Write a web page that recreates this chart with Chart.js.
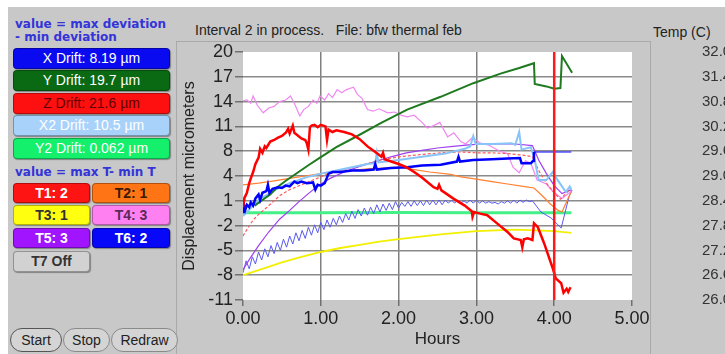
<!DOCTYPE html>
<html>
<head>
<meta charset="utf-8">
<script src="https://cdn.jsdelivr.net/npm/chart.js@4"></script>
<style>
html,body{margin:0;padding:0;}
body{width:725px;height:354px;overflow:hidden;background:#fff;position:relative;font-family:'Liberation Sans',Arial,sans-serif;color:#222;}
#frame{position:absolute;left:8px;top:7px;width:717px;height:347px;background:#c8c8c8;}
.note{position:absolute;left:15px;font:bold 12px 'DejaVu Sans',sans-serif;color:#3434d8;white-space:nowrap;}
.btn{position:absolute;box-sizing:border-box;border-radius:4px;border:1px solid rgba(0,0,0,.3);box-shadow:1px 1px 1px rgba(0,0,0,.35);text-align:center;font-size:14px;white-space:nowrap;}
.drift{left:13px;width:157px;height:21px;line-height:19px;}
.t{height:20px;line-height:18px;font-weight:bold;}
.c1{left:13px;width:77px;}
.c2{left:92px;width:78px;}
.pill{position:absolute;top:328px;height:24px;box-sizing:border-box;border:1px solid #8a8a8a;border-radius:12px;background:#d4d4d4;font-size:14px;line-height:22px;text-align:center;}
.line{position:absolute;background:#a9a9a9;}
#wrap{position:absolute;left:176px;top:42px;width:600px;height:312px;}
</style>
</head>
<body>
<div id="frame"></div>
<div class="line" style="left:176px;top:41px;width:1px;height:313px;"></div>
<div class="line" style="left:176px;top:41px;width:474px;height:1px;"></div>
<div class="line" style="left:650px;top:41px;width:1px;height:313px;"></div>

<div class="note" style="top:17px;">value = max deviation</div>
<div class="note" style="top:30px;">- min deviation</div>
<div class="btn drift" style="top:48px;background:#0a0af0;color:#fff;">X Drift: 8.19 µm</div>
<div class="btn drift" style="top:70px;background:#0a6a14;color:#fff;">Y Drift: 19.7 µm</div>
<div class="btn drift" style="top:93px;background:#ff1010;color:#600000;">Z Drift: 21.6 µm</div>
<div class="btn drift" style="top:115px;background:#a8d2fa;color:#fff;">X2 Drift: 10.5 µm</div>
<div class="btn drift" style="top:138px;background:#14f06c;color:#fff;">Y2 Drift: 0.062 µm</div>
<div class="note" style="top:165px;">value = max T- min T</div>
<div class="btn t c1" style="top:183px;background:#ff1414;color:#fff;">T1: 2</div>
<div class="btn t c2" style="top:183px;background:#ff7414;color:#3a1a00;">T2: 1</div>
<div class="btn t c1" style="top:205px;background:#ffff10;color:#333;">T3: 1</div>
<div class="btn t c2" style="top:205px;background:#ff80f0;color:#5a2a5a;">T4: 3</div>
<div class="btn t c1" style="top:228px;background:#a014ff;color:#fff;">T5: 3</div>
<div class="btn t c2" style="top:228px;background:#0808f8;color:#fff;">T6: 2</div>
<div class="btn t c1" style="top:251px;height:21px;background:#d2d2d2;color:#333;">T7 Off</div>
<div class="pill" style="left:10px;width:52px;border-color:#555;">Start</div>
<div class="pill" style="left:63px;width:47px;">Stop</div>
<div class="pill" style="left:111px;width:67px;">Redraw</div>

<div style="position:absolute;left:195px;top:22px;font-size:14px;white-space:nowrap;">Interval 2 in process.&nbsp;&nbsp;&nbsp;File: bfw thermal feb</div>
<div style="position:absolute;left:653px;top:24px;font-size:14px;white-space:nowrap;">Temp (C)</div>

<div id="wrap"><canvas id="chart"></canvas></div>

<script>
// axis labels
const yTickLabels = [-11, -8, -5, -2, 1, 4, 8, 11, 14, 17, 20];
const xTicks = [0, 1, 2, 3, 4, 5];
const tempTicks = [26.0, 26.6, 27.2, 27.8, 28.4, 29.0, 29.6, 30.2, 30.8, 31.4, 32.0];
const cursorHours = 4.0;

// [hours, micrometers]
const xDrift = [[0,0.0],[0.01,1.0],[0.03,0.3],[0.05,0.9],[0.08,0.6],[0.1,1.2],[0.13,0.8],[0.16,1.7],[0.2,2.2],[0.22,1.5],[0.25,2.4],[0.3,2.6],[0.32,3.4],[0.34,2.4],[0.38,2.9],[0.45,3.1],[0.5,3.0],[0.55,3.3],[0.6,3.2],[0.66,3.8],[0.7,3.6],[0.75,3.8],[0.82,3.6],[0.9,3.7],[0.93,2.8],[0.96,3.4],[1.0,3.3],[1.05,3.6],[1.1,4.8],[1.15,5.0],[1.25,5.0],[1.4,5.2],[1.55,5.2],[1.68,5.3],[1.7,6.0],[1.72,5.3],[1.9,5.5],[2.11,5.6],[2.3,5.8],[2.54,5.9],[2.75,6.3],[2.77,6.9],[2.79,6.3],[2.96,6.5],[3.2,6.6],[3.4,6.7],[3.56,6.75],[3.58,6.1],[3.7,6.1],[3.73,6.4],[3.74,7.5],[4.22,7.5]];
const yDrift = [[0.15,0.8],[0.25,1.5],[0.35,2.2],[0.44,3.1],[0.55,3.9],[0.7,4.9],[0.85,5.9],[0.99,6.8],[1.2,8.1],[1.47,9.5],[1.77,11.1],[2.11,12.8],[2.54,14.4],[2.96,16.1],[3.31,17.3],[3.55,18.0],[3.74,18.6],[3.75,16.0],[3.9,15.7],[4.0,15.4],[4.08,15.5],[4.1,19.5],[4.23,17.4]];
const zDrift = [[0,0.6],[0.02,1.8],[0.05,2.4],[0.08,3.6],[0.1,4.2],[0.13,5.0],[0.16,6.0],[0.2,6.8],[0.22,7.9],[0.25,7.4],[0.28,8.2],[0.3,8.0],[0.35,8.8],[0.4,9.0],[0.45,9.3],[0.5,9.5],[0.55,9.9],[0.58,10.4],[0.6,9.8],[0.64,10.8],[0.66,9.9],[0.7,9.6],[0.75,9.2],[0.8,9.0],[0.82,8.6],[0.84,7.8],[0.86,10.6],[0.88,10.8],[0.92,10.9],[0.96,10.6],[1.0,10.9],[1.06,10.7],[1.08,9.0],[1.1,10.3],[1.15,10.0],[1.2,10.2],[1.3,10.0],[1.4,9.7],[1.5,9.1],[1.6,8.2],[1.7,7.5],[1.78,6.9],[1.8,7.4],[1.82,6.6],[2.0,6.0],[2.1,5.6],[2.2,5.0],[2.3,4.3],[2.45,3.1],[2.5,2.9],[2.52,3.4],[2.55,2.7],[2.7,1.7],[2.85,0.8],[2.94,0.1],[2.95,-0.6],[2.97,0.0],[3.05,-0.2],[3.14,-0.4],[3.25,-1.3],[3.4,-2.5],[3.48,-3.3],[3.57,-3.5],[3.59,-4.4],[3.61,-3.4],[3.66,-3.3],[3.72,-3.5],[3.74,-1.4],[3.79,-1.9],[3.87,-3.9],[3.98,-7.0],[4.02,-8.3],[4.09,-8.9],[4.12,-10.1],[4.16,-9.6],[4.18,-10.0],[4.21,-9.4]];
const x2Drift = [[0,-0.5],[0.2,1.5],[0.4,2.7],[0.6,3.6],[0.8,4.3],[1.0,4.8],[1.2,5.2],[1.4,5.6],[1.6,6.0],[1.7,6.1],[1.72,7.4],[1.74,6.2],[2.0,6.5],[2.3,6.9],[2.6,7.3],[2.85,7.9],[2.92,8.2],[2.96,9.5],[2.99,8.5],[3.2,8.5],[3.45,8.6],[3.5,8.4],[3.55,10.0],[3.58,7.8],[3.7,8.1],[3.75,6.5],[3.8,4.0],[3.9,4.0],[3.98,5.0],[4.03,4.2],[4.1,3.2],[4.15,2.5],[4.2,3.2],[4.22,2.8]];
const y2Drift = [[0,-0.1],[1,-0.1],[2,-0.05],[3,-0.1],[4.22,-0.1]];
const t1 = [[0,-3.0],[0.05,-2.2],[0.13,-1.0],[0.2,-0.3],[0.31,0.6],[0.4,1.4],[0.48,2.1],[0.6,2.8],[0.75,3.4],[0.9,4.0],[1.05,4.6],[1.25,5.2],[1.5,5.8],[1.77,6.5],[2.0,6.9],[2.3,7.2],[2.54,7.4],[2.8,7.5],[3.0,7.4],[3.2,7.4],[3.4,7.3],[3.6,7.1],[3.72,6.9],[3.8,5.2],[3.9,3.6],[4.0,2.4],[4.08,1.6],[4.15,2.3],[4.22,3.0]];
const t2 = [[0,3.4],[0.2,3.6],[0.4,3.9],[0.6,4.2],[0.8,4.5],[1.0,4.8],[1.2,5.0],[1.4,5.2],[1.6,5.4],[1.8,5.5],[2.0,5.6],[2.2,5.3],[2.4,5.0],[2.67,4.7],[2.8,4.4],[3.0,4.1],[3.2,3.8],[3.4,3.5],[3.6,3.2],[3.74,3.0],[3.85,2.0],[3.95,1.0],[4.05,0.2],[4.1,0.0],[4.22,2.6]];
const t3 = [[0,-7.9],[0.25,-7.1],[0.5,-6.3],[0.75,-5.6],[1.0,-5.0],[1.25,-4.5],[1.5,-4.1],[1.75,-3.7],[2.0,-3.4],[2.25,-3.1],[2.54,-2.8],[2.75,-2.6],[3.0,-2.4],[3.25,-2.3],[3.5,-2.2],[3.75,-2.3],[4.0,-2.4],[4.22,-2.6]];
const t4 = [[0,13.9],[0.05,14.0],[0.1,13.6],[0.13,14.5],[0.18,13.4],[0.26,12.4],[0.33,13.0],[0.4,13.2],[0.47,13.8],[0.55,14.0],[0.61,14.5],[0.66,13.6],[0.73,12.0],[0.78,12.8],[0.84,13.2],[0.9,14.0],[0.95,13.6],[0.99,14.5],[1.05,14.0],[1.1,14.8],[1.15,14.3],[1.21,15.3],[1.27,14.9],[1.33,15.3],[1.42,15.6],[1.47,14.7],[1.53,14.2],[1.6,12.8],[1.67,12.6],[1.75,12.9],[1.86,12.4],[1.95,12.5],[2.03,12.1],[2.11,11.9],[2.2,12.1],[2.3,11.2],[2.37,10.5],[2.45,10.8],[2.53,11.2],[2.63,9.4],[2.71,9.9],[2.8,8.8],[2.86,8.5],[2.95,9.3],[3.05,8.6],[3.15,8.4],[3.3,7.6],[3.4,7.3],[3.47,5.6],[3.55,4.9],[3.63,6.4],[3.7,6.1],[3.78,4.0],[3.9,3.5],[3.98,2.6],[4.1,1.7],[4.22,2.6]];
const t5 = [[0,-7.2],[0.09,-5.8],[0.2,-4.2],[0.33,-2.5],[0.47,-0.9],[0.6,0.2],[0.72,1.3],[0.84,2.3],[0.97,3.3],[1.12,4.2],[1.3,5.0],[1.5,5.7],[1.7,6.3],[1.9,6.9],[2.1,7.4],[2.3,7.7],[2.5,8.0],[2.7,8.2],[2.9,8.4],[3.1,8.5],[3.3,8.5],[3.5,8.5],[3.72,8.3],[3.8,6.5],[3.9,4.8],[4.0,3.3],[4.1,2.3],[4.22,2.8]];
const t6 = [[0,-7.6],[0.04,-6.1],[0.08,-7.1],[0.12,-5.6],[0.16,-6.5],[0.2,-5.0],[0.24,-6.0],[0.28,-4.6],[0.32,-5.6],[0.36,-4.2],[0.4,-5.2],[0.44,-3.8],[0.48,-4.8],[0.52,-3.4],[0.56,-4.4],[0.6,-3.0],[0.64,-4.0],[0.68,-2.6],[0.72,-3.6],[0.76,-2.3],[0.8,-3.3],[0.84,-1.9],[0.88,-2.9],[0.92,-1.6],[0.96,-2.6],[1.0,-1.3],[1.04,-2.2],[1.08,-1.0],[1.12,-1.9],[1.16,-0.8],[1.2,-1.6],[1.24,-0.5],[1.28,-1.3],[1.32,-0.2],[1.36,-1.0],[1.4,0.1],[1.44,-0.8],[1.48,0.3],[1.52,-0.5],[1.56,0.5],[1.6,-0.4],[1.64,0.6],[1.68,-0.2],[1.72,0.9],[1.76,0.0],[1.8,1.0],[1.84,0.2],[1.88,1.1],[1.92,0.3],[1.96,1.3],[2.0,0.5],[2.04,1.2],[2.08,0.7],[2.12,1.3],[2.16,0.7],[2.2,1.4],[2.24,0.8],[2.28,1.4],[2.32,0.8],[2.36,1.5],[2.4,0.9],[2.44,1.5],[2.48,0.9],[2.52,1.5],[2.56,0.9],[2.6,1.5],[2.64,1.1],[2.68,1.5],[2.72,1.1],[2.76,1.5],[2.8,1.1],[2.84,1.4],[2.88,1.1],[2.92,1.5],[2.96,1.1],[3.0,1.5],[3.04,1.1],[3.08,1.4],[3.12,1.1],[3.16,1.3],[3.2,1.1],[3.24,1.2],[3.28,1.0],[3.32,1.3],[3.36,1.1],[3.4,1.4],[3.44,1.1],[3.48,1.5],[3.52,1.1],[3.56,1.5],[3.6,1.2],[3.64,1.5],[3.68,1.3],[3.72,1.4],[3.83,0.0],[3.96,-0.75],[4.09,-2.0],[4.19,1.9],[4.23,2.75]];

const pts = arr => arr.map(p => ({x: p[0], y: p[1]}));
const yStep = (yTickLabels[yTickLabels.length - 1] - yTickLabels[0]) / (yTickLabels.length - 1);

function line(data, color, width, extra) {
    return Object.assign({
        data: pts(data),
        borderColor: color,
        borderWidth: width,
        pointRadius: 0,
        tension: 0,
        fill: false
    }, extra || {});
}

const plotBg = {
    id: 'plotBg',
    beforeDraw(chart) {
        const a = chart.chartArea;
        chart.ctx.save();
        chart.ctx.fillStyle = '#ffffff';
        chart.ctx.fillRect(a.left, a.top, a.right - a.left, a.bottom - a.top);
        chart.ctx.restore();
    }
};

const ctx = document.getElementById('chart').getContext('2d');
new Chart(ctx, {
    type: 'line',
    data: {
        datasets: [
            line([[cursorHours, -11], [cursorHours, 20]], '#ff1a1a', 2.5),
            line(zDrift, '#ff0000', 2.5),
            line(xDrift, '#0000ff', 2.5, {segment: {borderWidth: c => c.p0.parsed.x >= 3.74 ? 1.2 : 2.5}}),
            line(yDrift, '#1f7a1f', 2),
            line(x2Drift, '#86c4fa', 2),
            line(t1, '#ff5a5a', 1.2, {borderDash: [3, 2]}),
            line(t5, '#a040f0', 1.2),
            line(t4, '#f088f0', 1.2),
            line(t2, '#ff8030', 1.2),
            line(t6, '#5a5af0', 1),
            line(y2Drift, '#44f088', 3),
            line(t3, '#f2f000', 1.8)
        ]
    },
    options: {
        responsive: true,
        maintainAspectRatio: false,
        animation: false,
        events: [],
        layout: {padding: {top: 10, left: 0, right: 0, bottom: 0}},
        plugins: {legend: {display: false}, tooltip: {enabled: false}},
        scales: {
            x: {
                type: 'linear',
                min: xTicks[0],
                max: xTicks[xTicks.length - 1],
                afterBuildTicks: s => { s.ticks = xTicks.map(v => ({value: v})); },
                afterFit: s => { s.height = 54; },
                grid: {
                    color: c => (c.index === 0 || c.index === xTicks.length - 1) ? 'rgba(0,0,0,0)' : '#808080',
                    lineWidth: 1.5,
                    tickColor: '#707070',
                    tickLength: 6
                },
                border: {display: false},
                ticks: {
                    color: '#222',
                    font: {size: 18, family: "'Liberation Sans', Arial"},
                    padding: 2,
                    maxRotation: 0,
                    autoSkip: false,
                    callback: v => Number(v).toFixed(2)
                },
                title: {
                    display: true,
                    text: 'Hours',
                    color: '#222',
                    font: {size: 17, family: "'Liberation Sans', Arial"},
                    padding: {top: 0, bottom: 4}
                }
            },
            y: {
                type: 'linear',
                position: 'left',
                min: yTickLabels[0],
                max: yTickLabels[yTickLabels.length - 1],
                afterBuildTicks: s => { s.ticks = yTickLabels.map((v, i) => ({value: yTickLabels[0] + i * yStep})); },
                afterFit: s => { s.width = 67; },
                grid: {
                    color: c => (c.index === 0 || c.index === yTickLabels.length - 1) ? 'rgba(0,0,0,0)' : '#8a8a8a',
                    lineWidth: 1.5,
                    tickColor: '#707070',
                    tickLength: 8
                },
                border: {display: false},
                ticks: {
                    color: '#222',
                    font: {size: 18, family: "'Liberation Sans', Arial", lineHeight: 0.8},
                    padding: 2,
                    autoSkip: false,
                    callback: (v, i) => String(yTickLabels[i])
                },
                title: {
                    display: true,
                    text: 'Displacement micrometers',
                    color: '#222',
                    font: {size: 16, family: "'Liberation Sans', Arial"},
                    padding: {top: 4, bottom: 0}
                }
            },
            y1: {
                type: 'linear',
                position: 'right',
                min: tempTicks[0],
                max: tempTicks[tempTicks.length - 1],
                afterBuildTicks: s => { s.ticks = tempTicks.map(v => ({value: v})); },
                afterFit: s => { s.width = 144; },
                grid: {display: true, drawOnChartArea: false, drawTicks: true, tickLength: 70, tickColor: 'rgba(0,0,0,0)'},
                border: {display: false},
                ticks: {
                    color: '#333',
                    font: {size: 15, family: "'Liberation Sans', Arial", lineHeight: 1},
                    padding: 0,
                    autoSkip: false,
                    callback: v => Number(v).toFixed(1)
                }
            }
        }
    },
    plugins: [plotBg]
});
</script>
</body>
</html>
